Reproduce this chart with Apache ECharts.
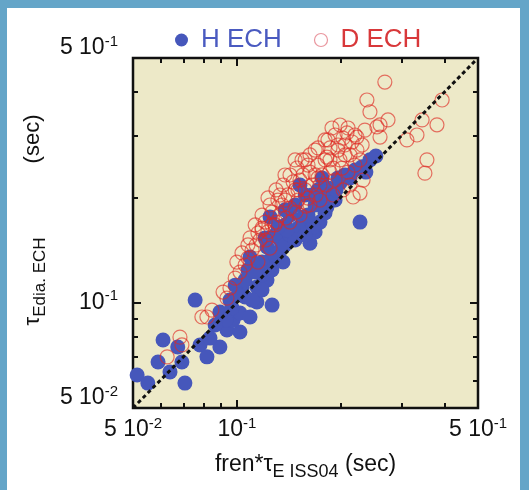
<!DOCTYPE html>
<html><head><meta charset="utf-8">
<script src="https://cdn.jsdelivr.net/npm/echarts@6/dist/echarts.min.js"></script>
<style>
html,body{margin:0;padding:0;width:529px;height:490px;background:#64a5c8;overflow:hidden}
#c{position:absolute;left:7px;top:8px;width:513px;height:482px;background:#fff}
</style></head><body><div id="c"></div>
<script>
// ---- data (seconds) ----
const seriesNames = ['H ECH', 'D ECH'];
const hX = [0.0514,0.0552,0.0591,0.0611,0.0640,0.0693,0.0707,0.0757,0.0782,0.0819,0.0893,0.0936,0.0893,0.1021,0.0975,0.1021,0.0955,0.1092,0.1143,0.1265,0.1057,0.1035,0.1143,0.1223,0.1183,0.1077,0.1092,0.1248,0.1223,0.1334,0.1334,0.1493,0.1629,0.1686,0.1555,0.1742,0.2275,0.2431,0.2307,0.2529,0.2366,0.1990,0.1824,0.1663,0.1555,0.1426,0.1380,0.1476,0.1578,0.1718,0.1862,0.1291,0.1208,0.1151,0.0989,0.1380,0.1524,0.1766,0.1926,0.2057,0.0674,0.1248,
  0.1056,0.1129,0.1183,0.1290,0.1379,0.1426,0.1504,0.1608,0.1685,0.1765,0.1837,0.1938,0.1652,0.1475,0.1361,0.1264,0.1183,0.1107,0.1008,0.0968,0.0930,0.0865,0.0836,0.1964,0.2128,0.2200,0.1801,0.1575,0.1398,0.1316];
const hY = [0.0621,0.0589,0.0677,0.0782,0.0634,0.0677,0.0589,0.1017,0.0757,0.0700,0.0747,0.0835,0.0940,0.0824,0.0891,0.0934,0.1017,0.0910,0.1004,0.0984,0.1038,0.1101,0.1109,0.1160,0.1200,0.1239,0.1350,0.1324,0.1442,0.1413,0.1510,0.1613,0.1479,0.1592,0.1699,0.1699,0.1699,0.2558,0.2443,0.2624,0.2360,0.2198,0.1875,0.1644,0.1758,0.1778,0.1667,0.1901,0.2031,0.2099,0.2031,0.1560,0.1531,0.1281,0.1122,0.1841,0.2168,0.2271,0.1964,0.2317,0.0747,0.1758,
  0.1160,0.1224,0.1306,0.1368,0.1461,0.1560,0.1634,0.1779,0.1901,0.1964,0.2126,0.2099,0.2030,0.1510,0.1306,0.1239,0.1087,0.1017,0.1052,0.0966,0.0892,0.0863,0.0792,0.2271,0.2271,0.2393,0.1803,0.1560,0.1613,0.1645];
const dX = [0.2685,0.2382,0.2431,0.2742,0.2600,0.3443,0.3935,0.3802,0.3111,0.3327,0.3556,0.3508,0.2322,0.2275,0.2173,0.2600,0.2547,
  0.2059,0.1963,0.2128,0.1862,0.1990,0.1802,0.1901,0.1718,0.1766,0.1629,0.1652,0.1524,0.1578,0.1476,0.1503,0.1406,0.1426,0.1352,0.1334,0.1265,0.1291,0.1208,0.1230,0.1151,0.1167,0.1092,0.1107,0.1035,0.1057,0.1021,0.0955,0.0936,0.0912,0.0847,0.0819,0.0792,0.0693,0.0684,0.0628,
  0.2198,0.2099,0.1926,0.1742,0.1629,0.1524,0.1426,0.1837,0.1686,0.2229,0.1578,0.2085,0.2229,
  0.1183,0.1380,0.1456,0.1555,0.1686,0.1824,0.2031,0.1926,0.2158,0.2307,0.2350,0.1315,0.1248,0.1130,0.1077,0.1000,0.0989,0.1742,0.1862,0.2018,0.1607,0.1248,0.1151,
  0.1183,0.1231,0.1299,0.1361,0.1426,0.1494,0.1545,0.1629,0.1719,0.1801,0.1887,0.1991,0.2100,0.2200,0.2275,0.2128,0.2031,0.1900,0.1813,0.1696,0.1586,0.1484,0.1388,0.1299,0.1214,0.1137,0.1077,0.1379,0.1475,0.1964,0.2059,0.1862,0.1719,0.1608,0.1504,0.1334,0.1264,0.1183];
const dY = [0.4268,0.3793,0.3508,0.3327,0.3221,0.3327,0.3793,0.3221,0.2917,0.3013,0.2558,0.2344,0.2239,0.2056,0.2004,0.2972,0.3177,
  0.2821,0.2729,0.2642,0.2767,0.2558,0.2558,0.2424,0.2471,0.2317,0.2360,0.2168,0.2239,0.2099,0.2099,0.1964,0.2031,0.1862,0.1901,0.1778,0.1815,0.1667,0.1699,0.1592,0.1581,0.1510,0.1531,0.1413,0.1387,0.1281,0.1223,0.1101,0.1030,0.1072,0.0952,0.0910,0.0910,0.0757,0.0797,0.0700,
  0.2471,0.2360,0.2239,0.1964,0.1901,0.1778,0.1699,0.2917,0.2729,0.2729,0.2558,0.3055,0.2972,
  0.1633,0.1964,0.2213,0.2317,0.2317,0.2606,0.2951,0.3013,0.2877,0.2821,0.3111,0.1964,0.1901,0.1667,0.1462,0.1306,0.1175,0.2168,0.2360,0.2424,0.1990,0.1432,0.1306,
  0.1779,0.1991,0.2099,0.2168,0.2316,0.2425,0.2557,0.2642,0.2767,0.2916,0.3155,0.3218,0.3155,0.3013,0.2557,0.2168,0.2099,0.2030,0.2168,0.2030,0.1888,0.1815,0.1745,0.1699,0.1510,0.1461,0.1341,0.2316,0.2557,0.2821,0.2642,0.2557,0.2271,0.2472,0.2099,0.2030,0.1667,0.1613];
const refLineX = [0.05, 0.5];
const refLineY = [0.05, 0.5];
// ---- axes ----
const axisMin = 0.05, axisMax = 0.5;
const tickLabelValues = [0.05, 0.1, 0.5];
const tickLabelMantissa = ['5 10', '10', '5 10'];
const tickLabelExponent = ['-2', '-1', '-1'];
const minorTickValues = [0.06, 0.07, 0.08, 0.09, 0.2, 0.3, 0.4];
const majorTickValues = [0.1];

const FONT = 'Arial, "Liberation Sans", sans-serif';
const zip = (a, b) => a.map((v, i) => [v, b[i]]);

function tickIndex(v) {
  for (let i = 0; i < tickLabelValues.length; i++) {
    if (Math.abs(Math.log10(v) - Math.log10(tickLabelValues[i])) < 1e-6) return i;
  }
  return -1;
}
function fmtX(v) {
  const i = tickIndex(v);
  if (i < 0) return '';
  return '{m|' + tickLabelMantissa[i] + '}{s|' + tickLabelExponent[i] + '}';
}
function fmtY(v) {
  const i = tickIndex(v);
  if (i < 0) return '';
  const end = (i === 0 || i === tickLabelValues.length - 1);
  return end ? '{mu|' + tickLabelMantissa[i] + '}{su|' + tickLabelExponent[i] + '}'
             : '{m|' + tickLabelMantissa[i] + '}{s|' + tickLabelExponent[i] + '}';
}
const labRich = {
  m: {fontSize: 23, fontFamily: FONT, color: '#111'},
  s: {fontSize: 15, fontFamily: FONT, color: '#111', padding: [0, 0, 13, 0]},
  mu: {fontSize: 23, fontFamily: FONT, color: '#111', padding: [0, 0, 20, 0]},
  su: {fontSize: 15, fontFamily: FONT, color: '#111', padding: [0, 0, 33, 0]}
};
const tickLine = {color: '#111', width: 2};

function mkAxis(kind, pos, ticks, len, withLabels) {
  const ax = {
    type: 'log', logBase: 10, min: axisMin, max: axisMax, position: pos,
    axisLine: {show: false}, splitLine: {show: false},
    axisTick: {show: true, inside: true, length: len, customValues: ticks, lineStyle: tickLine},
    axisLabel: {show: false}
  };
  if (withLabels) {
    ax.axisLabel = {show: true, customValues: tickLabelValues,
      formatter: kind === 'x' ? fmtX : fmtY, rich: labRich,
      margin: kind === 'x' ? 8 : 15};
  }
  return ax;
}

const xAxes = [
  mkAxis('x', 'bottom', minorTickValues, 5, true),
  mkAxis('x', 'bottom', majorTickValues, 8, false),
  mkAxis('x', 'top', minorTickValues, 5, false),
  mkAxis('x', 'top', majorTickValues, 8, false)
];
xAxes[0].name = '{t|fren*τ}{b|E ISS04}{t| (sec)}';
xAxes[0].nameLocation = 'middle';
xAxes[0].nameGap = 40;
xAxes[0].nameTextStyle = {rich: {
  t: {fontSize: 23, fontFamily: FONT, color: '#111'},
  b: {fontSize: 18, fontFamily: FONT, color: '#111', padding: [15, 0, 0, 0]}
}};
const yAxes = [
  mkAxis('y', 'left', minorTickValues, 5, true),
  mkAxis('y', 'left', majorTickValues, 8, false),
  mkAxis('y', 'right', minorTickValues, 5, false),
  mkAxis('y', 'right', majorTickValues, 8, false)
];
yAxes[0].name = '{t|τ}{b|Edia. ECH}{p|(sec)}';
yAxes[0].nameLocation = 'middle';
yAxes[0].nameGap = 70;
yAxes[0].nameTextStyle = {padding: [0, 0, 0, 26], rich: {
  t: {fontSize: 22, fontFamily: FONT, color: '#111'},
  b: {fontSize: 17, fontFamily: FONT, color: '#111', padding: [15, 0, 0, 0]},
  p: {fontSize: 22, fontFamily: FONT, color: '#111', padding: [0, 0, 0, 74]}
}};

const chart = echarts.init(document.getElementById('c'), null, {renderer: 'canvas'});
chart.setOption({
  animation: false,
  grid: {left: 126, right: 42, top: 50, bottom: 82, show: true,
    backgroundColor: '#ede9c8', borderColor: '#111', borderWidth: 2.5},
  legend: {
    top: 14, left: 163, itemGap: 32, itemWidth: 13, itemHeight: 13,
    textStyle: {fontSize: 26, fontFamily: FONT, padding: [0, 0, 0, 8]},
    data: [
      {name: seriesNames[0], icon: 'circle', textStyle: {color: '#4a5ac0'}},
      {name: seriesNames[1], icon: 'circle', textStyle: {color: '#d8383a'},
       itemStyle: {color: 'rgba(0,0,0,0)', borderColor: 'rgba(225,110,120,0.9)', borderWidth: 1.2}}
    ]
  },
  xAxis: xAxes,
  yAxis: yAxes,
  series: [
    {name: seriesNames[0], type: 'scatter', symbol: 'circle', symbolSize: 15,
     itemStyle: {color: '#4657bb', opacity: 1},
     data: zip(hX, hY), z: 2},
    {name: seriesNames[1], type: 'scatter', symbol: 'circle', symbolSize: 14,
     itemStyle: {color: 'rgba(0,0,0,0)', borderColor: 'rgba(222,40,34,0.8)', borderWidth: 1.2},
     data: zip(dX, dY), z: 3},
    {type: 'line', data: zip(refLineX, refLineY), symbol: 'none', silent: true, z: 4,
     lineStyle: {color: '#111', width: 3, type: [4, 3]}}
  ]
});
</script></body></html>
